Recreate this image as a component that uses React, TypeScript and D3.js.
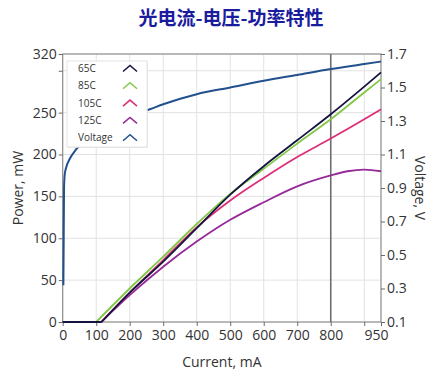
import React, { useEffect, useRef } from "react";
import * as d3 from "d3";

// chart text
const title = "光电流-电压-功率特性";
const xLabel = "Current, mA";
const yLabel = "Power, mW";
const y2Label = "Voltage, V";

// ticks
const xTicks = [0, 100, 200, 300, 400, 500, 600, 700, 800, 900, 950];
const xTickLabels = ["0", "100", "200", "300", "400", "500", "600", "700", "800", "", "950"];
const yTicks = [0, 50, 100, 150, 200, 250, 300, 320];
const yTickLabels = ["0", "50", "100", "150", "200", "250", "", "320"];
const y2Ticks = [0.1, 0.3, 0.5, 0.7, 0.9, 1.1, 1.3, 1.5, 1.7];
const cursorCurrent = 800;

// power series (mW) vs current (mA); second point is the threshold
const current65 = [0, 116, 200, 300, 400, 500, 600, 700, 800, 900, 950];
const power65 = [0, 0, 35, 72, 112, 152, 186, 217, 248, 281, 298];
const current85 = [0, 100, 200, 300, 400, 500, 600, 700, 800, 900, 950];
const power85 = [0, 0, 40, 78, 117, 153, 183, 213, 242, 274, 290];
const current105 = [0, 115, 200, 300, 400, 500, 600, 700, 800, 900, 950];
const power105 = [0, 0, 35, 74, 113, 145, 172, 197, 219, 242, 254];
const current125 = [0, 115, 200, 300, 400, 500, 600, 700, 800, 850, 900, 950];
const power125 = [0, 0, 32, 66, 96, 122, 143, 162, 175, 180, 182, 180];

// voltage (V) vs current (mA)
const currentV = [2, 3, 4, 6, 10, 20, 40, 60, 100, 150, 200, 260, 300, 400, 500, 600, 700, 800, 900, 950];
const voltage = [0.32, 0.6, 0.9, 0.98, 1.02, 1.07, 1.13, 1.17, 1.23, 1.28, 1.33, 1.37, 1.4, 1.46, 1.5, 1.54, 1.575, 1.61, 1.64, 1.655];

const seriesNames = ["65C", "85C", "105C", "125C", "Voltage"];

export default function App() {
  const ref = useRef<SVGSVGElement>(null);

  useEffect(() => {
    const svg = d3.select(ref.current);
    svg.selectAll("*").remove();
    const font = "'Open Sans', 'Noto Sans', sans-serif";
    const left = 62.7, right = 381, top = 54, bottom = 322;

    const x = d3.scaleLinear().domain([0, 950]).range([left, right]);
    const y = d3.scaleLinear().domain([0, 320]).range([bottom, top]);
    const y2 = d3.scaleLinear().domain([0.1, 1.7]).range([bottom, top]);

    svg.append("rect").attr("width", 438).attr("height", 384).attr("fill", "#fff");

    // title
    svg.append("text")
      .attr("x", 231).attr("y", 25)
      .attr("text-anchor", "middle")
      .attr("font-family", "'Noto Sans CJK SC', sans-serif")
      .attr("font-weight", "bold")
      .attr("font-size", 19)
      .attr("fill", "#1b1b9e")
      .text(title);

    // grid
    const grid = svg.append("g").attr("stroke", "#e2e2e2").attr("stroke-width", 1);
    d3.range(100, 950, 100).forEach((v) => {
      grid.append("line").attr("x1", x(v)).attr("x2", x(v)).attr("y1", top).attr("y2", bottom);
    });
    [50, 100, 150, 200, 250, 300].forEach((v) => {
      grid.append("line").attr("x1", left).attr("x2", right).attr("y1", y(v)).attr("y2", y(v));
    });

    // frame
    svg.append("rect")
      .attr("x", left).attr("y", top)
      .attr("width", right - left).attr("height", bottom - top)
      .attr("fill", "none").attr("stroke", "#8a8a8a").attr("stroke-width", 1.2);

    // axes
    const styleAxis = (g: any) => {
      g.select(".domain").remove();
      g.selectAll(".tick line").attr("stroke", "#6a6a6a");
      g.selectAll(".tick text").attr("fill", "#333").attr("font-size", 14).attr("font-family", font);
    };
    const xAxisG = svg.append("g")
      .attr("transform", `translate(0,${bottom})`)
      .call(d3.axisBottom(x).tickValues(xTicks).tickSize(4).tickPadding(4)
        .tickFormat((d, i) => xTickLabels[i]))
      .call(styleAxis);
    xAxisG.selectAll(".tick text").filter((d: any) => d === 950).attr("dx", -5);
    svg.append("g")
      .attr("transform", `translate(${left},0)`)
      .call(d3.axisLeft(y).tickValues(yTicks).tickSize(4).tickPadding(2)
        .tickFormat((d, i) => yTickLabels[i]))
      .call(styleAxis);
    svg.append("g")
      .attr("transform", `translate(${right},0)`)
      .call(d3.axisRight(y2).tickValues(y2Ticks).tickSize(4).tickPadding(2)
        .tickFormat(d3.format(".1f")))
      .call(styleAxis);

    // axis labels
    svg.append("text")
      .attr("x", (left + right) / 2).attr("y", 367)
      .attr("text-anchor", "middle").attr("font-size", 14).attr("font-family", font).attr("fill", "#333")
      .text(xLabel);
    svg.append("text")
      .attr("transform", `translate(23,${(top + bottom) / 2}) rotate(-90)`)
      .attr("text-anchor", "middle").attr("font-size", 14).attr("font-family", font).attr("fill", "#333")
      .text(yLabel);
    svg.append("text")
      .attr("transform", `translate(415,${(top + bottom) / 2}) rotate(90)`)
      .attr("text-anchor", "middle").attr("font-size", 14).attr("font-family", font).attr("fill", "#333")
      .text(y2Label);

    // cursor line
    svg.append("line")
      .attr("x1", x(cursorCurrent)).attr("x2", x(cursorCurrent))
      .attr("y1", top).attr("y2", bottom)
      .attr("stroke", "#6f6f6f").attr("stroke-width", 1.6);

    // curves: flat part below threshold drawn straight, rising part smoothed
    const flatLine = d3.line<[number, number]>()
      .x((d) => x(d[0])).y((d) => y(d[1]));
    const powerLine = d3.line<[number, number]>()
      .x((d) => x(d[0])).y((d) => y(d[1])).curve(d3.curveMonotoneX);
    const voltLine = d3.line<[number, number]>()
      .x((d) => x(d[0])).y((d) => y2(d[1])).curve(d3.curveMonotoneX);

    const series = [
      { xs: current125, ys: power125, color: "#952a98" },
      { xs: current105, ys: power105, color: "#dc2f78" },
      { xs: current85, ys: power85, color: "#82c846" },
      { xs: current65, ys: power65, color: "#14143f" },
    ];
    series.forEach((s) => {
      const pts = s.xs.map((c, i) => [c, s.ys[i]] as [number, number]);
      const g = svg.append("g").attr("fill", "none").attr("stroke", s.color).attr("stroke-width", 1.8);
      g.append("path").datum(pts.slice(0, 2)).attr("d", flatLine);
      g.append("path").datum(pts.slice(1)).attr("d", powerLine);
    });
    svg.append("path")
      .datum(currentV.map((c, i) => [c, voltage[i]] as [number, number]))
      .attr("d", voltLine)
      .attr("fill", "none").attr("stroke", "#22508c").attr("stroke-width", 2);

    // legend
    const legendColors = ["#14143f", "#82c846", "#dc2f78", "#952a98", "#22508c"];
    svg.append("rect")
      .attr("x", 68).attr("y", 62).attr("width", 80).attr("height", 86)
      .attr("fill", "#d8d8d8").attr("opacity", 0.6);
    svg.append("rect")
      .attr("x", 67).attr("y", 61).attr("width", 80).attr("height", 86)
      .attr("fill", "#fff").attr("stroke", "#e4e4e4");
    seriesNames.forEach((name, i) => {
      const cy = 68.5 + i * 17.3;
      svg.append("text")
        .attr("x", 78).attr("y", cy + 3.5)
        .attr("font-size", 10).attr("font-family", font).attr("fill", "#333")
        .text(name);
      svg.append("path")
        .attr("d", `M123,${cy + 3} L130,${cy - 3} L137,${cy + 3}`)
        .attr("fill", "none").attr("stroke", legendColors[i]).attr("stroke-width", 1.5);
    });
  }, []);

  return (
    <svg
      ref={ref}
      width={438}
      height={384}
      style={{ position: "absolute", left: 0, top: 0 }}
    />
  );
}
